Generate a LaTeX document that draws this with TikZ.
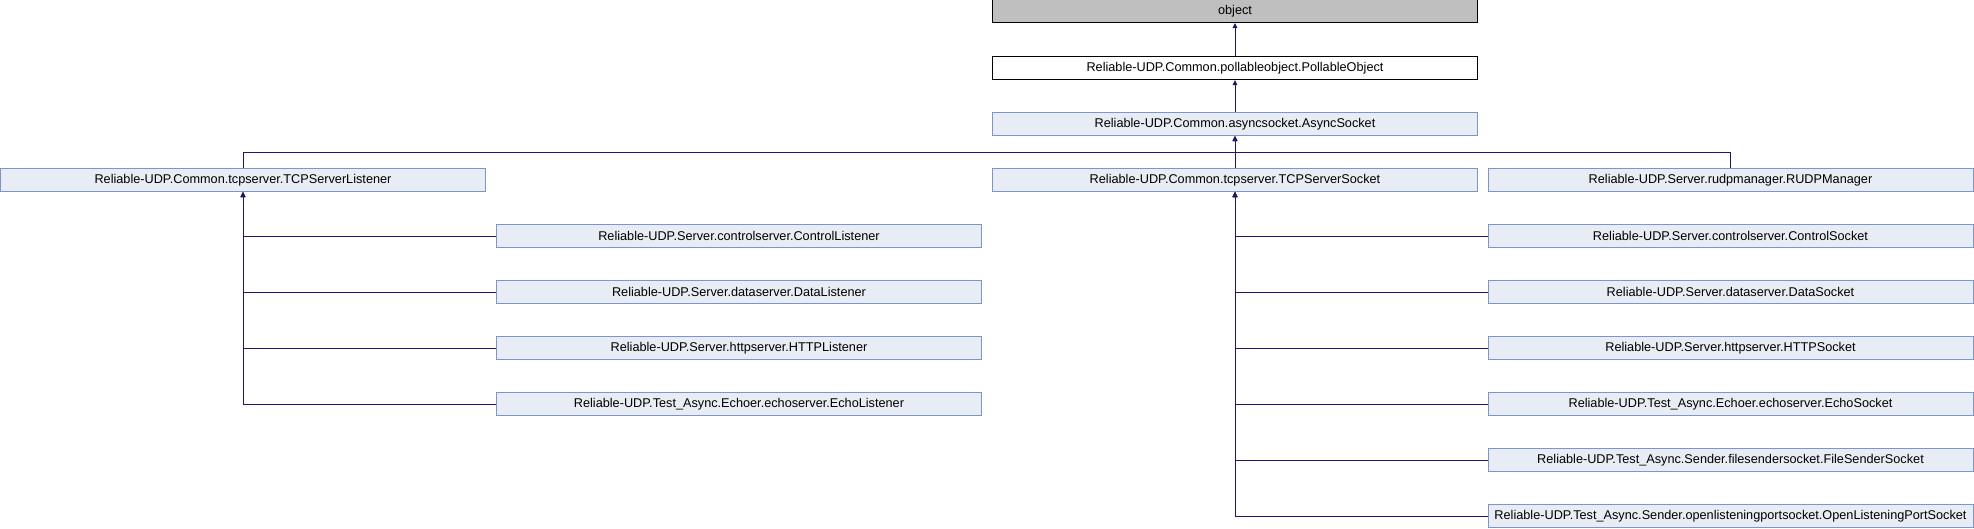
\documentclass[tikz,border=0pt]{standalone}
\usepackage{fontspec}
\setmainfont{Liberation Sans}
\usetikzlibrary{arrows.meta}
\definecolor{boxfill}{RGB}{232,236,244}
\definecolor{boxline}{RGB}{124,149,202}
\definecolor{objfill}{RGB}{191,191,191}
\definecolor{edgecol}{RGB}{25,25,112}
\tikzset{
  cls/.style={draw=boxline, fill=boxfill, line width=1pt, minimum width=485pt, minimum height=23pt, inner sep=0pt, font=\fontsize{12.7}{14}\selectfont, text=black},
  rootcls/.style={cls, draw=black, fill=objfill},
  plaincls/.style={cls, draw=black, fill=white},
  edge/.style={draw=edgecol, line width=1pt, -{Triangle[length=5pt,width=4.5pt]}},
}
\begin{document}
\begin{tikzpicture}[x=1pt,y=-1pt]
\useasboundingbox (0,0) rectangle (1974,528);
% columns: 243, 739, 1235, 1730.5
\node[rootcls]  (obj)   at (1235,11) {object};
\node[plaincls] (poll)  at (1235,68) {Reliable-UDP.Common.pollableobject.PollableObject};
\node[cls]      (async) at (1235,124) {Reliable-UDP.Common.asyncsocket.AsyncSocket};
\node[cls] (tcpl) at (243,180) {Reliable-UDP.Common.tcpserver.TCPServerListener};
\node[cls] (tcps) at (1235,180) {Reliable-UDP.Common.tcpserver.TCPServerSocket};
\node[cls] (rudp) at (1730.5,180) {Reliable-UDP.Server.rudpmanager.RUDPManager};
\node[cls] (cl) at (739,236) {Reliable-UDP.Server.controlserver.ControlListener};
\node[cls] (dl) at (739,292) {Reliable-UDP.Server.dataserver.DataListener};
\node[cls] (hl) at (739,348) {Reliable-UDP.Server.httpserver.HTTPListener};
\node[cls] (el) at (739,404) {Reliable-UDP.Test\_Async.Echoer.echoserver.EchoListener};
\node[cls] (cs) at (1730.5,236) {Reliable-UDP.Server.controlserver.ControlSocket};
\node[cls] (ds) at (1730.5,292) {Reliable-UDP.Server.dataserver.DataSocket};
\node[cls] (hs) at (1730.5,348) {Reliable-UDP.Server.httpserver.HTTPSocket};
\node[cls] (es) at (1730.5,404) {Reliable-UDP.Test\_Async.Echoer.echoserver.EchoSocket};
\node[cls] (fs) at (1730.5,460) {Reliable-UDP.Test\_Async.Sender.filesendersocket.FileSenderSocket};
\node[cls] (os) at (1730.5,516) {Reliable-UDP.Test\_Async.Sender.openlisteningportsocket.OpenListeningPortSocket};
\coordinate (bus) at (1235,152);
\path[edge] (poll.north) -- (obj.south);
\path[edge] (async.north) -- (poll.south);
\path[edge] (tcpl.north) |- (bus) -| (async.south);
\path[edge] (tcps.north) -- (async.south);
\path[edge] (rudp.north) |- (bus) -| (async.south);
\foreach \c in {cl,dl,hl,el}{\path[edge] (\c.west) -| (tcpl.south);}
\foreach \c in {cs,ds,hs,es,fs,os}{\path[edge] (\c.west) -| (tcps.south);}
\end{tikzpicture}
\end{document}
